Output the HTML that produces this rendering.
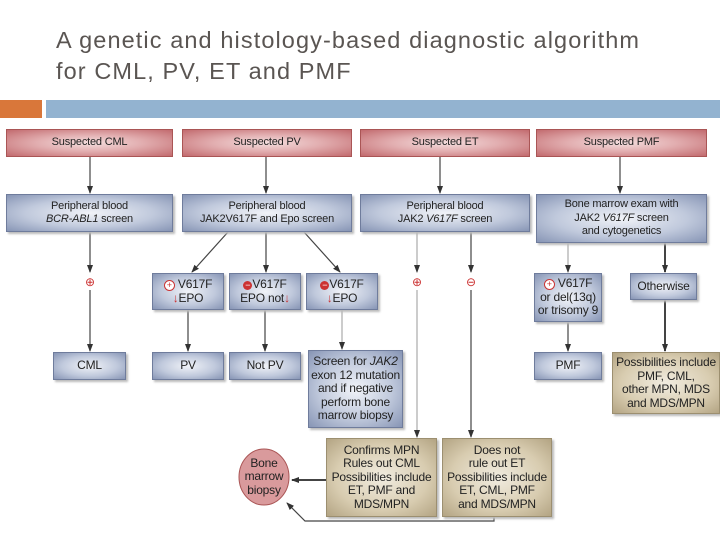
<!DOCTYPE html>
<html><head><meta charset="utf-8"><style>
body{margin:0;width:720px;height:540px;background:#fff;position:relative;overflow:hidden;font-family:"Liberation Sans",sans-serif}
.t{position:absolute;left:56px;color:#5a5552;font-size:23.5px;letter-spacing:1.1px}
.b{position:absolute;box-sizing:border-box;display:flex;align-items:center;justify-content:center;text-align:center;font-size:11px;line-height:13.5px;color:#222;letter-spacing:-0.2px}
.b>div{width:100%}
.r{background:radial-gradient(ellipse at center,#f4dede 0%,#e2aeb0 45%,#c26a6e 100%);border:1px solid #a55}
.u{background:radial-gradient(ellipse at center,#f1f3f8 0%,#c0c9dc 55%,#8795b5 100%);border:1px solid #6f7c9c;box-shadow:2px 2px 2px #bbb}
.k{background:radial-gradient(ellipse at center,#f1ece0 0%,#d8ccb0 60%,#b3a483 100%);border:1px solid #9c8f70;box-shadow:2px 2px 2px #bbb}
.pc{display:inline-block;width:9px;height:9px;border-radius:50%;border:1px solid #c33;color:#c33;font-size:9px;line-height:9px;text-align:center;background:#fff}
.m{display:inline-block;width:9px;height:9px;border-radius:50%;background:#c33;color:#fff;font-size:9px;line-height:8px;text-align:center}
.dn{color:#c33}
</style></head><body>
<div class="t" style="top:27px">A genetic and histology‑based diagnostic algorithm</div>
<div class="t" style="top:58px">for CML, PV, ET and PMF</div>
<div style="position:absolute;left:0;top:100px;width:42px;height:18px;background:#d9773a"></div>
<div style="position:absolute;left:46px;top:100px;width:674px;height:18px;background:#93b3d0"></div>

<svg width="720" height="540" style="position:absolute;left:0;top:0">
<defs><marker id="a" markerWidth="8" markerHeight="8" refX="7" refY="4" orient="auto" markerUnits="userSpaceOnUse"><path d="M0,1 L8,4 L0,7 Z" fill="#333"/></marker></defs>
<g stroke="#444" stroke-width="1.2" fill="none" marker-end="url(#a)">
<line x1="90" y1="157" x2="90" y2="193"/><line x1="266" y1="157" x2="266" y2="193"/>
<line x1="440" y1="157" x2="440" y2="193"/><line x1="620" y1="157" x2="620" y2="193"/>
<line x1="90" y1="232" x2="90" y2="272"/><line x1="90" y1="290" x2="90" y2="351"/>
<line x1="228" y1="232" x2="192" y2="272"/><line x1="266" y1="232" x2="266" y2="272"/><line x1="304" y1="232" x2="340" y2="272"/>
<line x1="188" y1="310" x2="188" y2="351"/><line x1="265" y1="310" x2="265" y2="351"/>
<line x1="342" y1="310" x2="342" y2="349" stroke="#aaa"/>
<line x1="417" y1="232" x2="417" y2="272" stroke="#aaa"/><line x1="471" y1="232" x2="471" y2="272"/>
<line x1="417" y1="290" x2="417" y2="437" stroke="#aaa"/><line x1="471" y1="290" x2="471" y2="437"/>
<line x1="568" y1="243" x2="568" y2="272" stroke="#aaa"/><line x1="665" y1="243" x2="665" y2="272" stroke-width="2"/>
<line x1="568" y1="322" x2="568" y2="351"/><line x1="665" y1="300" x2="665" y2="351" stroke-width="2"/>
<line x1="326" y1="480" x2="292" y2="480" stroke-width="2"/>
<polyline points="494,517 494,521 305,521 287,503"/>
</g>
<text x="90" y="286" text-anchor="middle" font-size="12" fill="#c33">⊕</text>
<text x="417" y="286" text-anchor="middle" font-size="12" fill="#c33">⊕</text>
<text x="471" y="286" text-anchor="middle" font-size="12" fill="#c33">⊖</text>
<ellipse cx="264" cy="477" rx="25" ry="28" fill="#d99a9c" stroke="#a55"/>
</svg>

<div class="b r" style="left:6px;top:129px;width:167px;height:28px"><div>Suspected CML</div></div>
<div class="b r" style="left:182px;top:129px;width:170px;height:28px"><div>Suspected PV</div></div>
<div class="b r" style="left:360px;top:129px;width:170px;height:28px"><div>Suspected ET</div></div>
<div class="b r" style="left:536px;top:129px;width:171px;height:28px"><div>Suspected PMF</div></div>

<div class="b u" style="left:6px;top:194px;width:167px;height:38px"><div>Peripheral blood<br><i>BCR-ABL1</i> screen</div></div>
<div class="b u" style="left:182px;top:194px;width:170px;height:38px"><div>Peripheral blood<br>JAK2V617F and Epo screen</div></div>
<div class="b u" style="left:360px;top:194px;width:170px;height:38px"><div>Peripheral blood<br>JAK2 <i>V617F</i> screen</div></div>
<div class="b u" style="left:536px;top:194px;width:171px;height:49px"><div>Bone marrow exam with<br>JAK2 <i>V617F</i> screen<br>and cytogenetics</div></div>

<div class="b u" style="left:152px;top:273px;width:72px;height:37px;font-size:12px"><div><span class="pc">+</span> V617F<br><span class="dn">↓</span>EPO</div></div>
<div class="b u" style="left:229px;top:273px;width:72px;height:37px;font-size:12px"><div><span class="m">−</span>V617F<br>EPO not<span class="dn">↓</span></div></div>
<div class="b u" style="left:306px;top:273px;width:72px;height:37px;font-size:12px"><div><span class="m">−</span>V617F<br><span class="dn">↓</span>EPO</div></div>
<div class="b u" style="left:534px;top:273px;width:68px;height:49px;font-size:12px"><div><span class="pc">+</span> V617F<br>or del(13q)<br>or trisomy 9</div></div>
<div class="b u" style="left:630px;top:273px;width:67px;height:27px;font-size:12px"><div>Otherwise</div></div>

<div class="b u" style="left:53px;top:352px;width:73px;height:28px;font-size:12px"><div>CML</div></div>
<div class="b u" style="left:152px;top:352px;width:72px;height:28px;font-size:12px"><div>PV</div></div>
<div class="b u" style="left:229px;top:352px;width:72px;height:28px;font-size:12px"><div>Not PV</div></div>
<div class="b u" style="left:308px;top:350px;width:95px;height:78px;font-size:12px"><div>Screen for <i>JAK2</i><br>exon 12 mutation<br>and if negative<br>perform bone<br>marrow biopsy</div></div>
<div class="b u" style="left:534px;top:352px;width:68px;height:28px;font-size:12px"><div>PMF</div></div>
<div class="b k" style="left:612px;top:352px;width:108px;height:62px;font-size:12px"><div>Possibilities include<br>PMF, CML,<br>other MPN, MDS<br>and MDS/MPN</div></div>

<div class="b k" style="left:326px;top:438px;width:111px;height:79px;font-size:12px"><div>Confirms MPN<br>Rules out CML<br>Possibilities include<br>ET, PMF and<br>MDS/MPN</div></div>
<div class="b k" style="left:442px;top:438px;width:110px;height:79px;font-size:12px"><div>Does not<br>rule out ET<br>Possibilities include<br>ET, CML, PMF<br>and MDS/MPN</div></div>
<div class="b" style="left:239px;top:451px;width:50px;height:52px;font-size:12px"><div>Bone<br>marrow<br>biopsy</div></div>
</body></html>
